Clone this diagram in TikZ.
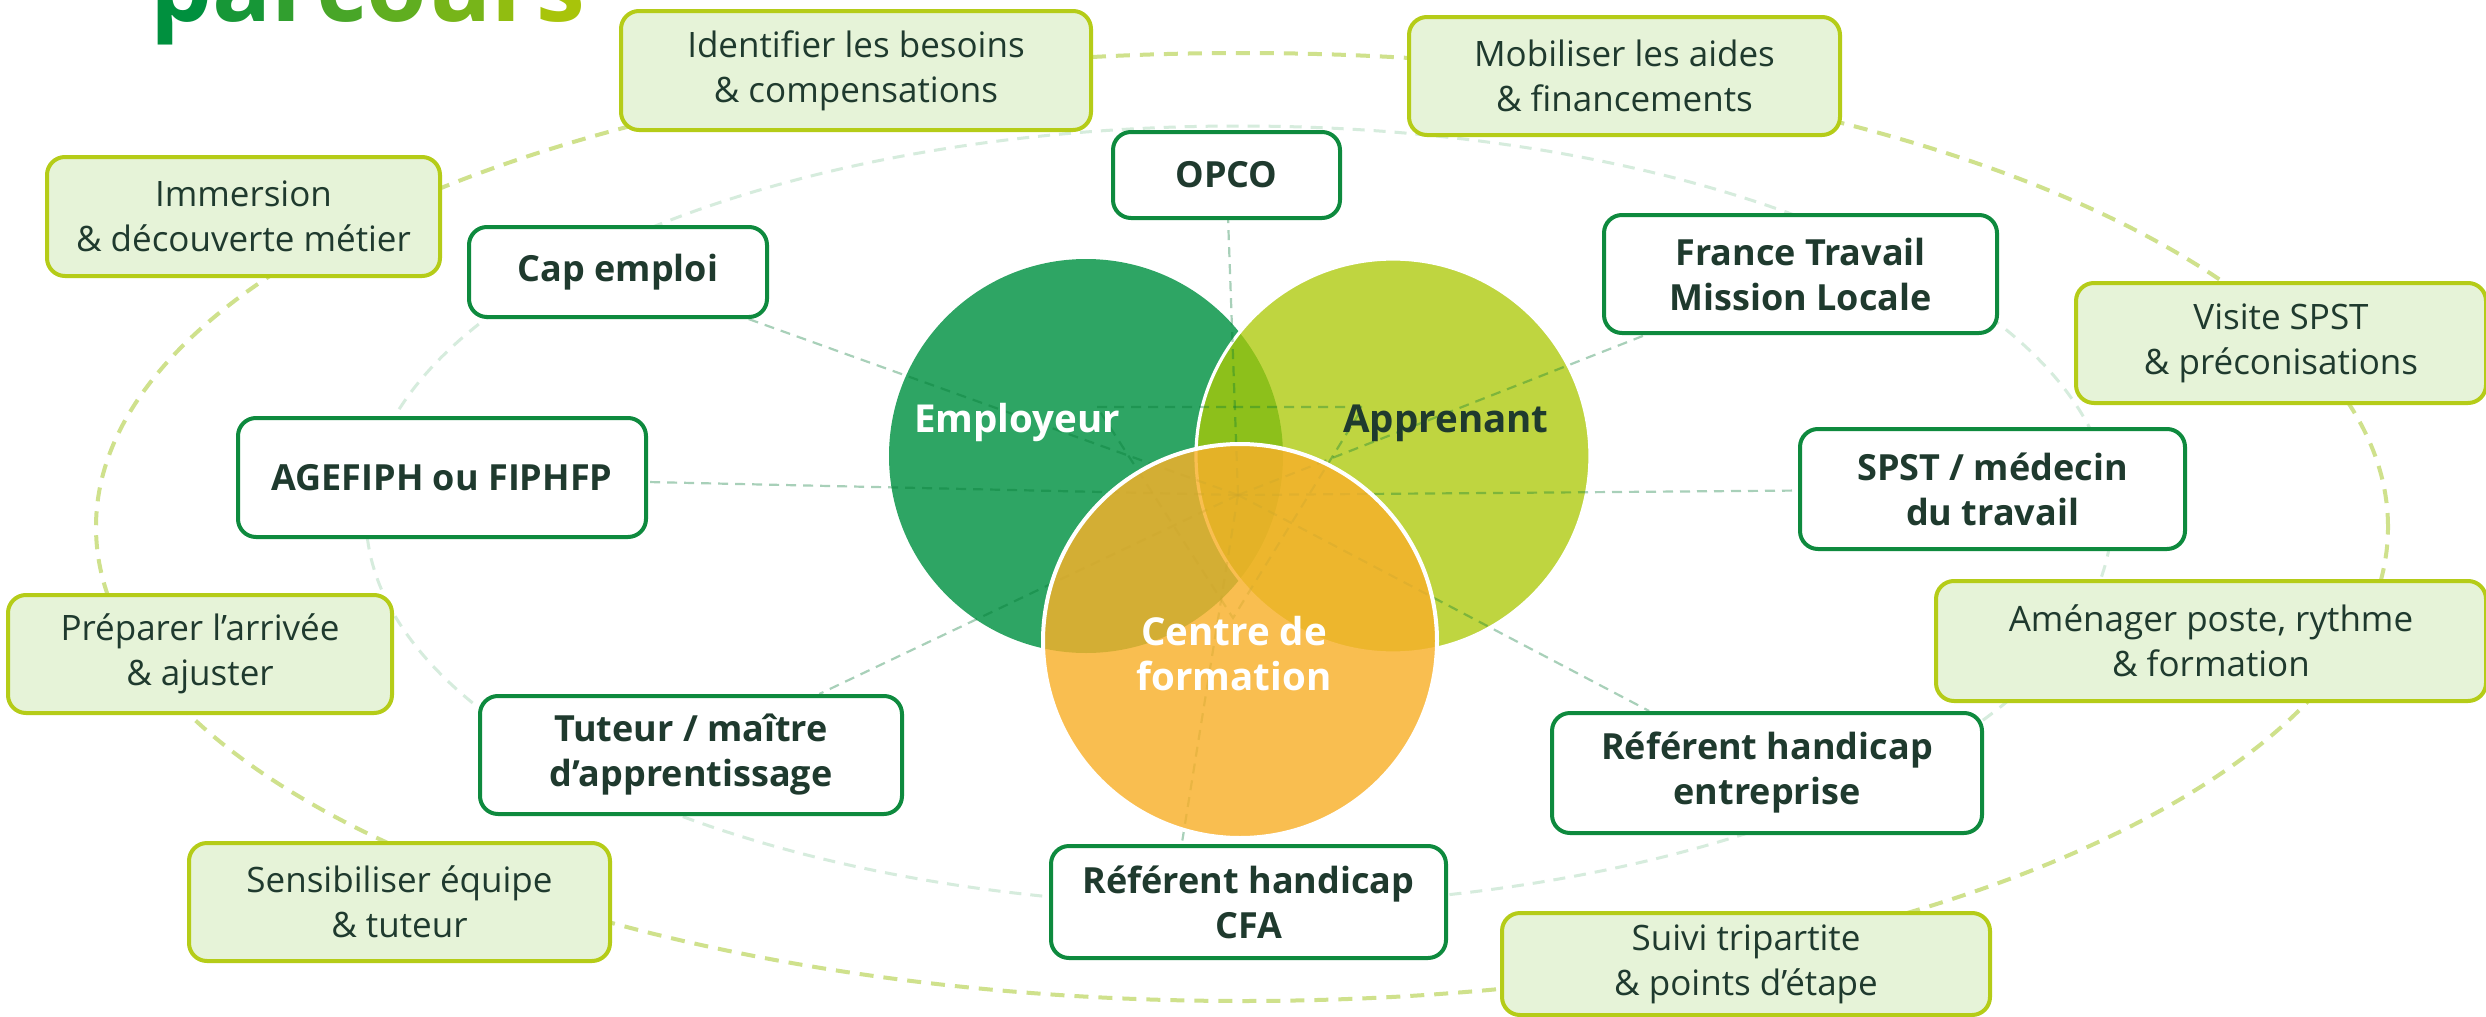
\documentclass[tikz,border=0pt]{standalone}
\usepackage{fontspec}
\setmainfont{Open Sans}
\usetikzlibrary{calc}
\definecolor{empc}{RGB}{46,165,100}
\definecolor{appc}{RGB}{172,201,5}
\definecolor{orc}{RGB}{248,176,42}
\definecolor{actb}{RGB}{14,138,62}
\definecolor{txtc}{RGB}{31,58,46}
\definecolor{stepf}{RGB}{230,243,216}
\definecolor{stepb}{RGB}{181,204,24}
\definecolor{ellout}{RGB}{207,225,140}
\definecolor{ellin}{RGB}{214,236,221}
\definecolor{conc}{RGB}{0,120,50}
\definecolor{tA}{RGB}{0,144,62}
\definecolor{tB}{RGB}{168,196,10}
\colorlet{t1}{tA}
\colorlet{t2}{tB!14!tA}
\colorlet{t3}{tB!29!tA}
\colorlet{t4}{tB!43!tA}
\colorlet{t5}{tB!57!tA}
\colorlet{t6}{tB!71!tA}
\colorlet{t7}{tB!86!tA}
\colorlet{t8}{tB}
\pgfdeclarelayer{bg}
\pgfdeclarelayer{circ}
\pgfdeclarelayer{lines}
\pgfdeclarelayer{orng}
\pgfsetlayers{bg,circ,lines,orng,main}
\tikzset{
  sz/.style 2 args={minimum width=#1*0.5pt, minimum height=#2*0.5pt},
  actor/.style={rectangle, rounded corners=9pt, draw=actb, line width=2pt, fill=white,
    text=txtc, align=center, inner sep=0pt,
    font=\bfseries\fontsize{18pt}{22.5pt}\selectfont},
  stepbox/.style={rectangle, rounded corners=9pt, draw=stepb, line width=2pt, fill=stepf,
    text=txtc, align=center, inner sep=0pt,
    font=\fontsize{17.5pt}{22.5pt}\selectfont},
  conn/.style={draw=conc, draw opacity=0.34, line width=1.1pt, dash pattern=on 5pt off 3.5pt},
  circlabel/.style={inner sep=0pt, align=center, font=\bfseries\fontsize{19.25pt}{22.5pt}\selectfont},
}
\begin{document}
\begin{tikzpicture}[x=0.5pt,y=-0.5pt]
\useasboundingbox (0,0) rectangle (2486,1017);

% coordinates
\coordinate (emc) at (1086,456);
\coordinate (apc) at (1393,456);
\coordinate (orcc) at (1240,641);
\coordinate (hub) at (1238,495);
\coordinate (ta) at (1097,407);
\coordinate (tb) at (1363,407);
\coordinate (tc) at (1233,618);

% title
\node[anchor=base west, inner sep=0pt, font=\bfseries\fontsize{49pt}{49pt}\selectfont] (title) at (150,21)
  {\textcolor{t1}{p}\textcolor{t2}{a}\textcolor{t3}{r}\textcolor{t4}{c}\textcolor{t5}{o}\textcolor{t6}{u}\textcolor{t7}{r}\textcolor{t8}{s}};

% step boxes (light)
\node[stepbox, sz={470}{119}] (identifier) at (856,70.5) {Identifier les besoins\\\& compensations};
\node[stepbox, sz={431}{118}] (mobiliser) at (1624.5,76) {Mobiliser les aides\\\& financements};
\node[stepbox, sz={393}{119}] (immersion) at (243.5,216.5) {Immersion\\\& découverte métier};
\node[stepbox, sz={410}{120}] (visite) at (2281,343) {Visite SPST\\\& préconisations};
\node[stepbox, sz={384}{118}] (preparer) at (200,654) {Préparer l’arrivée\\\& ajuster};
\node[stepbox, sz={550}{120}] (amenager) at (2211,641) {Aménager poste, rythme\\\& formation};
\node[stepbox, sz={421}{118}] (sensibiliser) at (399.5,902) {Sensibiliser équipe\\\& tuteur};
\node[stepbox, sz={488}{102}] (suivi) at (1746,964) {Suivi tripartite\\\& points d’étape};

% actor boxes
\node[actor, sz={227}{86}] (opco) at (1226.5,175) {OPCO};
\node[actor, sz={298}{90}] (cap) at (618,272) {Cap emploi};
\node[actor, sz={393}{118}] (ft) at (1800.5,274) {France Travail\\Mission Locale};
\node[actor, sz={408}{119}] (agefiph) at (442,477.5) {AGEFIPH ou FIPHFP};
\node[actor, sz={385}{120}] (spst) at (1992.5,489) {SPST / médecin\\du travail};
\node[actor, sz={422}{118}] (tuteur) at (691,755) {Tuteur / maître\\d’apprentissage};
\node[actor, sz={430}{120}] (entreprise) at (1767,773) {Référent handicap\\entreprise};
\node[actor, sz={395}{112}] (cfa) at (1248.5,902) {Référent handicap\\CFA};

% circle labels
\node[circlabel, text=white, anchor=base] (emp) at (1017,432) {Employeur};
\node[circlabel, text=txtc, anchor=base] (app) at (1446,432) {Apprenant};
\node[circlabel, text=white] (cdf) at (1234,654) {Centre de\\formation};

\begin{pgfonlayer}{bg}
  \fill[white] (0,0) rectangle (2486,1017);
  \draw[ellout, line width=2pt, dash pattern=on 7pt off 5pt] (1242,527) ellipse [x radius=573pt, y radius=237pt];
  \draw[ellin, line width=1.5pt, dash pattern=on 6pt off 4.5pt] (1239,516) ellipse [x radius=436.5pt, y radius=195pt];
\end{pgfonlayer}

\begin{pgfonlayer}{circ}
  \fill[empc] (emc) circle [radius=98.5pt];
  \fill[appc, fill opacity=0.76] (apc) circle [radius=98.5pt];
  \draw[white, line width=1.6pt] (apc) circle [radius=98.5pt];
\end{pgfonlayer}

\begin{pgfonlayer}{lines}
  \draw[conn] (hub) -- (opco);
  \draw[conn] (hub) -- (cap);
  \draw[conn] (hub) -- (ft);
  \draw[conn] (hub) -- (agefiph);
  \draw[conn] (hub) -- (spst);
  \draw[conn] (hub) -- (tuteur);
  \draw[conn] (hub) -- (entreprise);
  \draw[conn] (hub) -- (cfa.139);
  \draw[conn] (ta) -- (tb) -- (tc) -- cycle;
\end{pgfonlayer}

\begin{pgfonlayer}{orng}
  \fill[orc, fill opacity=0.82] (orcc) circle [radius=98.5pt];
  \draw[white, line width=2pt] (orcc) circle [radius=98.5pt];
\end{pgfonlayer}
\end{tikzpicture}
\end{document}
